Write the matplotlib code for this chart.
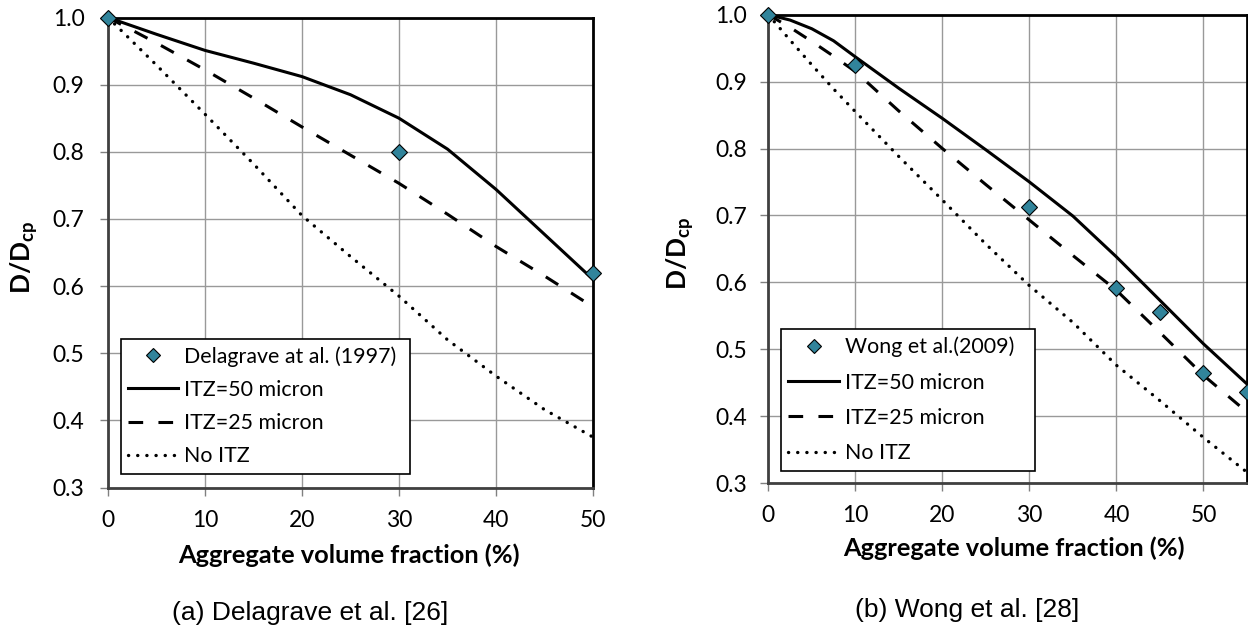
import matplotlib
matplotlib.use("Agg")
from matplotlib import pyplot as plt
from matplotlib.lines import Line2D

# Delagrave et al. (1997): measured points and model curves
x_del = [0, 30, 50]
d_del = [1.0, 0.80, 0.62]
x_del_fit = [0, 5, 10, 15, 20, 25, 30, 35, 40, 45, 50]
itz50_del = [1.0, 0.975, 0.951, 0.932, 0.912, 0.885, 0.850, 0.804, 0.744, 0.677, 0.610]
itz25_del = [1.0, 0.962, 0.922, 0.880, 0.837, 0.795, 0.753, 0.707, 0.659, 0.615, 0.569]
noitz_del = [1.0, 0.929, 0.856, 0.782, 0.705, 0.644, 0.585, 0.520, 0.466, 0.416, 0.375]

# Wong et al. (2009)
x_wong = [0, 10, 30, 40, 45, 50, 55]
d_wong = [1.0, 0.925, 0.713, 0.592, 0.555, 0.465, 0.436]
x_wong_fit = [0, 2.5, 5, 7.5, 10, 15, 20, 25, 30, 35, 40, 45, 50, 55]
itz50_wong = [1.0, 0.992, 0.979, 0.961, 0.937, 0.890, 0.845, 0.798, 0.750,
              0.699, 0.638, 0.573, 0.508, 0.448]
itz25_wong = [1.0, 0.981, 0.960, 0.938, 0.915, 0.856, 0.800, 0.746, 0.693,
              0.640, 0.588, 0.525, 0.461, 0.406]
noitz_wong = [1.0, 0.962, 0.925, 0.889, 0.855, 0.788, 0.723, 0.657, 0.595,
              0.540, 0.476, 0.423, 0.368, 0.316]

xticks = [0, 10, 20, 30, 40, 50]
yticks = [0.3, 0.4, 0.5, 0.6, 0.7, 0.8, 0.9, 1.0]

plt.rcParams['font.family'] = ['Lato', 'DejaVu Sans']
plt.rcParams['mathtext.fontset'] = 'custom'
plt.rcParams['mathtext.rm'] = 'Lato'
plt.rcParams['mathtext.bf'] = 'Lato:bold'

teal = '#31849b'
grid_c = '#999999'
dash = (0, (4.8, 5.0))
dot = (0, (0.05, 2.7))

fig = plt.figure(figsize=(12.48, 6.3), dpi=100)
ax1 = fig.add_axes([0.08654, 0.22619, 0.38862, 0.74603])
ax2 = fig.add_axes([0.61562, 0.23333, 0.38357, 0.74333])


def draw(ax, xs, d, xf, y50, y25, y0, xmax, src, leg_box, ypad, lspace):
    ax.plot(xf, y50, color='black', lw=2.2, zorder=3)
    ax.plot(xf, y25, color='black', lw=2.2, linestyle=dash, zorder=3)
    ax.plot(xf, y0, color='black', lw=2.4, linestyle=dot,
            dash_capstyle='round', zorder=3)
    ax.plot(xs, d, linestyle='none', marker='D', markersize=7.8,
            markerfacecolor=teal, markeredgecolor='black',
            markeredgewidth=0.8, zorder=4, clip_on=False)

    ax.set_xlim(0, xmax)
    ax.set_ylim(0.3, 1.0)
    ax.set_xticks(xticks)
    ax.set_yticks(yticks)
    ax.set_yticklabels(['%.1f' % v for v in yticks])
    ax.grid(True, color=grid_c, lw=1.0)
    ax.set_axisbelow(True)
    ax.tick_params(axis='both', direction='out', length=6, width=1,
                   color='#808080', labelsize=16.5)
    ax.tick_params(axis='y', pad=ypad)
    ax.tick_params(axis='x', pad=10)
    for s in ('top', 'right'):
        ax.spines[s].set_color('black')
        ax.spines[s].set_linewidth(2.0)
    for s in ('left', 'bottom'):
        ax.spines[s].set_color('#404040')
        ax.spines[s].set_linewidth(2.0)

    handles = [
        Line2D([], [], linestyle='none', marker='D', markersize=7.5,
               markerfacecolor=teal, markeredgecolor='black',
               markeredgewidth=0.8),
        Line2D([], [], color='black', lw=2.2),
        Line2D([], [], color='black', lw=2.2, linestyle=dash),
        Line2D([], [], color='black', lw=2.4, linestyle=dot,
               dash_capstyle='round'),
    ]
    labels = [src, 'ITZ=50 micron', 'ITZ=25 micron', 'No ITZ']
    leg = ax.legend(handles, labels, loc='lower left', bbox_to_anchor=leg_box,
                    mode='expand', borderaxespad=0, fontsize=15.4,
                    handlelength=2.35, handletextpad=0.28, labelspacing=lspace,
                    borderpad=0.35, fancybox=False, framealpha=1,
                    edgecolor='black', numpoints=1)
    leg.get_frame().set_linewidth(1.2)


draw(ax1, x_del, d_del, x_del_fit, itz50_del, itz25_del, noitz_del, 50,
     'Delagrave at al. (1997)', (0.026, 0.029, 0.597, 0.28), 11, 0.62)
draw(ax2, x_wong, d_wong, x_wong_fit, itz50_wong, itz25_wong, noitz_wong, 55,
     'Wong et al.(2009)', (0.0265, 0.026, 0.531, 0.30), 9.5, 0.72)

# axis titles and sub-figure captions
ylab = r'$\mathbf{D/D_{cp}}$'
fig.text(0.0196, 0.592, ylab, rotation=90, ha='center', va='center', fontsize=19)
fig.text(0.5454, 0.598, ylab, rotation=90, ha='center', va='center', fontsize=19)
fig.text(0.2796, 0.119, 'Aggregate volume fraction (%)', ha='center',
         va='center', fontsize=18.3, fontweight='bold')
fig.text(0.8125, 0.130, 'Aggregate volume fraction (%)', ha='center',
         va='center', fontsize=18.3, fontweight='bold')
fig.text(0.2484, 0.027, '(a) Delagrave et al. [26]', ha='center', va='center',
         fontsize=19, family='Liberation Sans')
fig.text(0.7748, 0.032, '(b) Wong et al. [28]', ha='center', va='center',
         fontsize=19, family='Liberation Sans')

fig.savefig('out.png', dpi=100)
